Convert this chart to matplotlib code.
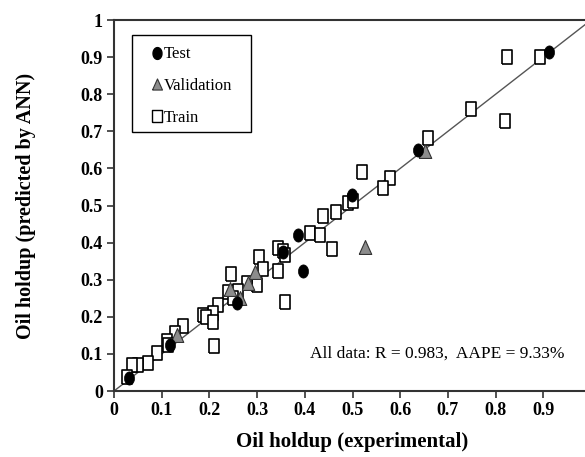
import numpy as np
import matplotlib
matplotlib.use("Agg")
import matplotlib.pyplot as plt
from matplotlib.lines import Line2D
from matplotlib.patches import Rectangle

# values
test_x = [0.912, 0.637, 0.499, 0.386, 0.397, 0.354, 0.258, 0.117, 0.031]
test_y = [0.914, 0.650, 0.528, 0.420, 0.323, 0.375, 0.237, 0.124, 0.035]

val_x = [0.652, 0.526, 0.296, 0.281, 0.243, 0.264, 0.132]
val_y = [0.647, 0.388, 0.321, 0.291, 0.275, 0.251, 0.151]

train_x = [0.893, 0.824, 0.748, 0.820, 0.658, 0.520, 0.579, 0.564, 0.491, 0.501,
           0.465, 0.438, 0.411, 0.432, 0.457, 0.344, 0.354, 0.358, 0.344, 0.358,
           0.304, 0.312, 0.300, 0.279, 0.245, 0.239, 0.260, 0.250, 0.218, 0.208,
           0.187, 0.193, 0.208, 0.210, 0.145, 0.128, 0.111, 0.090, 0.071, 0.050,
           0.038, 0.027, 0.113]
train_y = [0.900, 0.900, 0.760, 0.728, 0.682, 0.590, 0.574, 0.547, 0.507, 0.512,
           0.482, 0.472, 0.426, 0.420, 0.383, 0.385, 0.377, 0.367, 0.323, 0.240,
           0.361, 0.329, 0.286, 0.291, 0.315, 0.267, 0.270, 0.250, 0.232, 0.210,
           0.205, 0.200, 0.186, 0.121, 0.175, 0.156, 0.135, 0.102, 0.075, 0.070,
           0.070, 0.038, 0.125]

ticks = [0, 0.1, 0.2, 0.3, 0.4, 0.5, 0.6, 0.7, 0.8, 0.9, 1]
tick_labels = ["0", "0.1", "0.2", "0.3", "0.4", "0.5", "0.6", "0.7", "0.8", "0.9", "1"]

plt.rcParams["font.family"] = ["Liberation Serif", "DejaVu Serif"]

# markers are a bit taller than wide in the reference
t = np.linspace(0, 2 * np.pi, 40)
ellipse = list(zip(0.38 * np.cos(t), 0.5 * np.sin(t)))
rect = [(-0.4, -0.5), (0.4, -0.5), (0.4, 0.5), (-0.4, 0.5), (-0.4, -0.5)]
tri = [(-0.45, -0.5), (0.45, -0.5), (0.0, 0.5), (-0.45, -0.5)]

fig = plt.figure(figsize=(5.85, 4.57), dpi=100)
ax = fig.add_axes([0.1949, 0.1444, 0.8154, 0.8118])

ax.plot([0, 1], [0, 1], color="#555555", lw=1.0, zorder=1)
ax.plot(train_x, train_y, ls="none", marker=rect, ms=9.5, mfc="white",
        mec="black", mew=1.2, zorder=2)
ax.plot(val_x, val_y, ls="none", marker=tri, ms=10, mfc="#8c8c8c",
        mec="#333333", mew=0.8, zorder=3)
ax.plot(test_x, test_y, ls="none", marker=ellipse, ms=9.5, mfc="black",
        mec="black", mew=0.5, zorder=4)

ax.set_xlim(0, 1)
ax.set_ylim(0, 1)
ax.set_xticks(ticks)
ax.set_yticks(ticks)
ax.set_xticklabels(tick_labels, fontweight="bold", fontsize=13)
ax.set_yticklabels(tick_labels, fontweight="bold", fontsize=13)
ax.tick_params(direction="out", length=5, width=1.2, color="#333333", pad=3)
for s in ["left", "bottom", "top", "right"]:
    ax.spines[s].set_linewidth(1.5)
    ax.spines[s].set_color("#333333")

ax.set_xlabel("Oil holdup (experimental)", fontweight="bold", fontsize=15, labelpad=9)
ax.set_ylabel("Oil holdup (predicted by ANN)", fontweight="bold", fontsize=14.5, labelpad=32)

# legend box drawn as a plain frame, entries placed inside it
ax.add_patch(Rectangle((0.0377, 0.698), 0.2495, 0.2616, transform=ax.transAxes,
                       fill=True, fc="white", ec="black", lw=1.0, zorder=5))
handles = [
    Line2D([], [], ls="none", marker=ellipse, ms=8.5, mfc="black", mec="black"),
    Line2D([], [], ls="none", marker=tri, ms=8, mfc="#8c8c8c", mec="#333333", mew=0.8),
    Line2D([], [], ls="none", marker=rect, ms=8.5, mfc="white", mec="black", mew=1.0),
]
leg = ax.legend(handles, ["Test", "Validation", "Train"], loc="upper left",
                bbox_to_anchor=(0.0797, 0.929), borderaxespad=0, frameon=False,
                fontsize=12, handlelength=0.6, handletextpad=0.1,
                labelspacing=0.95, borderpad=0)
leg.set_zorder(6)

ax.text(0.411, 0.102, "All data: R = 0.983,  AAPE = 9.33%", fontsize=12.5,
        va="center", ha="left")

fig.savefig("out.png", dpi=100)
